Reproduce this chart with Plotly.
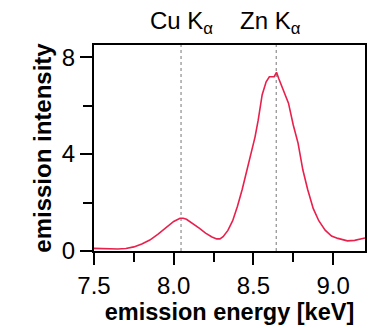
import plotly.graph_objects as go

energy = [7.50, 7.55, 7.60, 7.65, 7.70, 7.75, 7.80, 7.85, 7.90, 7.95, 8.00, 8.04, 8.06, 8.08,
          8.12, 8.16, 8.20, 8.24, 8.27, 8.29, 8.31, 8.34, 8.37, 8.40, 8.43, 8.46, 8.49, 8.51,
          8.53, 8.555, 8.58, 8.60, 8.63, 8.645, 8.66, 8.68, 8.72, 8.75, 8.78, 8.81, 8.84,
          8.875, 8.91, 8.95, 8.99, 9.03, 9.09, 9.135, 9.18, 9.20]
intensity = [0.11, 0.09, 0.08, 0.08, 0.10, 0.17, 0.29, 0.45, 0.69, 0.95, 1.22, 1.35, 1.35, 1.31,
             1.14, 0.94, 0.74, 0.58, 0.50, 0.50, 0.59, 0.85, 1.25, 1.85, 2.55, 3.35, 4.25, 4.70,
             5.40, 6.45, 6.98, 7.19, 7.19, 7.37, 7.10, 6.78, 6.10, 5.20, 4.45, 3.35, 2.55,
             1.76, 1.25, 0.86, 0.62, 0.52, 0.42, 0.44, 0.51, 0.54]

line_energies = [8.046, 8.643]
line_labels = ["Cu K<sub>α</sub>", "Zn K<sub>α</sub>"]
label_x = [8.046, 8.605]

x_ticks = [7.5, 8.0, 8.5, 9.0]
x_ticklabels = ["7.5", "8.0", "8.5", "9.0"]
x_minor = [7.75, 8.25, 8.75]
y_ticks = [0, 4, 8]
y_minor = [2, 6]

font = "Liberation Sans, Arial, sans-serif"

fig = go.Figure()
fig.add_trace(go.Scatter(x=energy, y=intensity, mode="lines",
                         line=dict(color="#e8204c", width=1.6), showlegend=False))

for e in line_energies:
    fig.add_shape(type="line", x0=e, x1=e, y0=0, y1=1, xref="x", yref="paper",
                  line=dict(color="#777777", width=1, dash="dot"), layer="below")

for lx, lab in zip(label_x, line_labels):
    fig.add_annotation(x=lx, y=1.11, xref="x", yref="paper", text=lab, showarrow=False,
                       font=dict(family=font, size=24, color="black"), yanchor="middle")

fig.update_layout(
    width=371, height=328,
    margin=dict(l=94, r=4, t=45, b=77),
    plot_bgcolor="white", paper_bgcolor="white",
    font=dict(family=font, size=24, color="black"),
    xaxis=dict(range=[7.5, 9.2], tickmode="array", tickvals=x_ticks, ticktext=x_ticklabels,
               ticks="outside", ticklen=12, tickwidth=2, tickcolor="black",
               showline=True, linecolor="black", linewidth=2, mirror=True,
               showgrid=False, zeroline=False,
               minor=dict(tickmode="array", tickvals=x_minor, ticks="outside", ticklen=9,
                          tickwidth=2, tickcolor="black"),
               title=dict(text="<b>emission energy [keV]</b>", standoff=1,
                          font=dict(family=font, size=23.5))),
    yaxis=dict(range=[0, 8.5], tickmode="array", tickvals=y_ticks,
               ticks="outside", ticklen=12, tickwidth=2, tickcolor="black",
               showline=True, linecolor="black", linewidth=2, mirror=True,
               showgrid=False, zeroline=False,
               minor=dict(tickmode="array", tickvals=y_minor, ticks="outside", ticklen=9,
                          tickwidth=2, tickcolor="black"),
               title=dict(text="<b>emission intensity</b>", standoff=3,
                          font=dict(family=font, size=24))),
)

fig.write_html("out.html")
